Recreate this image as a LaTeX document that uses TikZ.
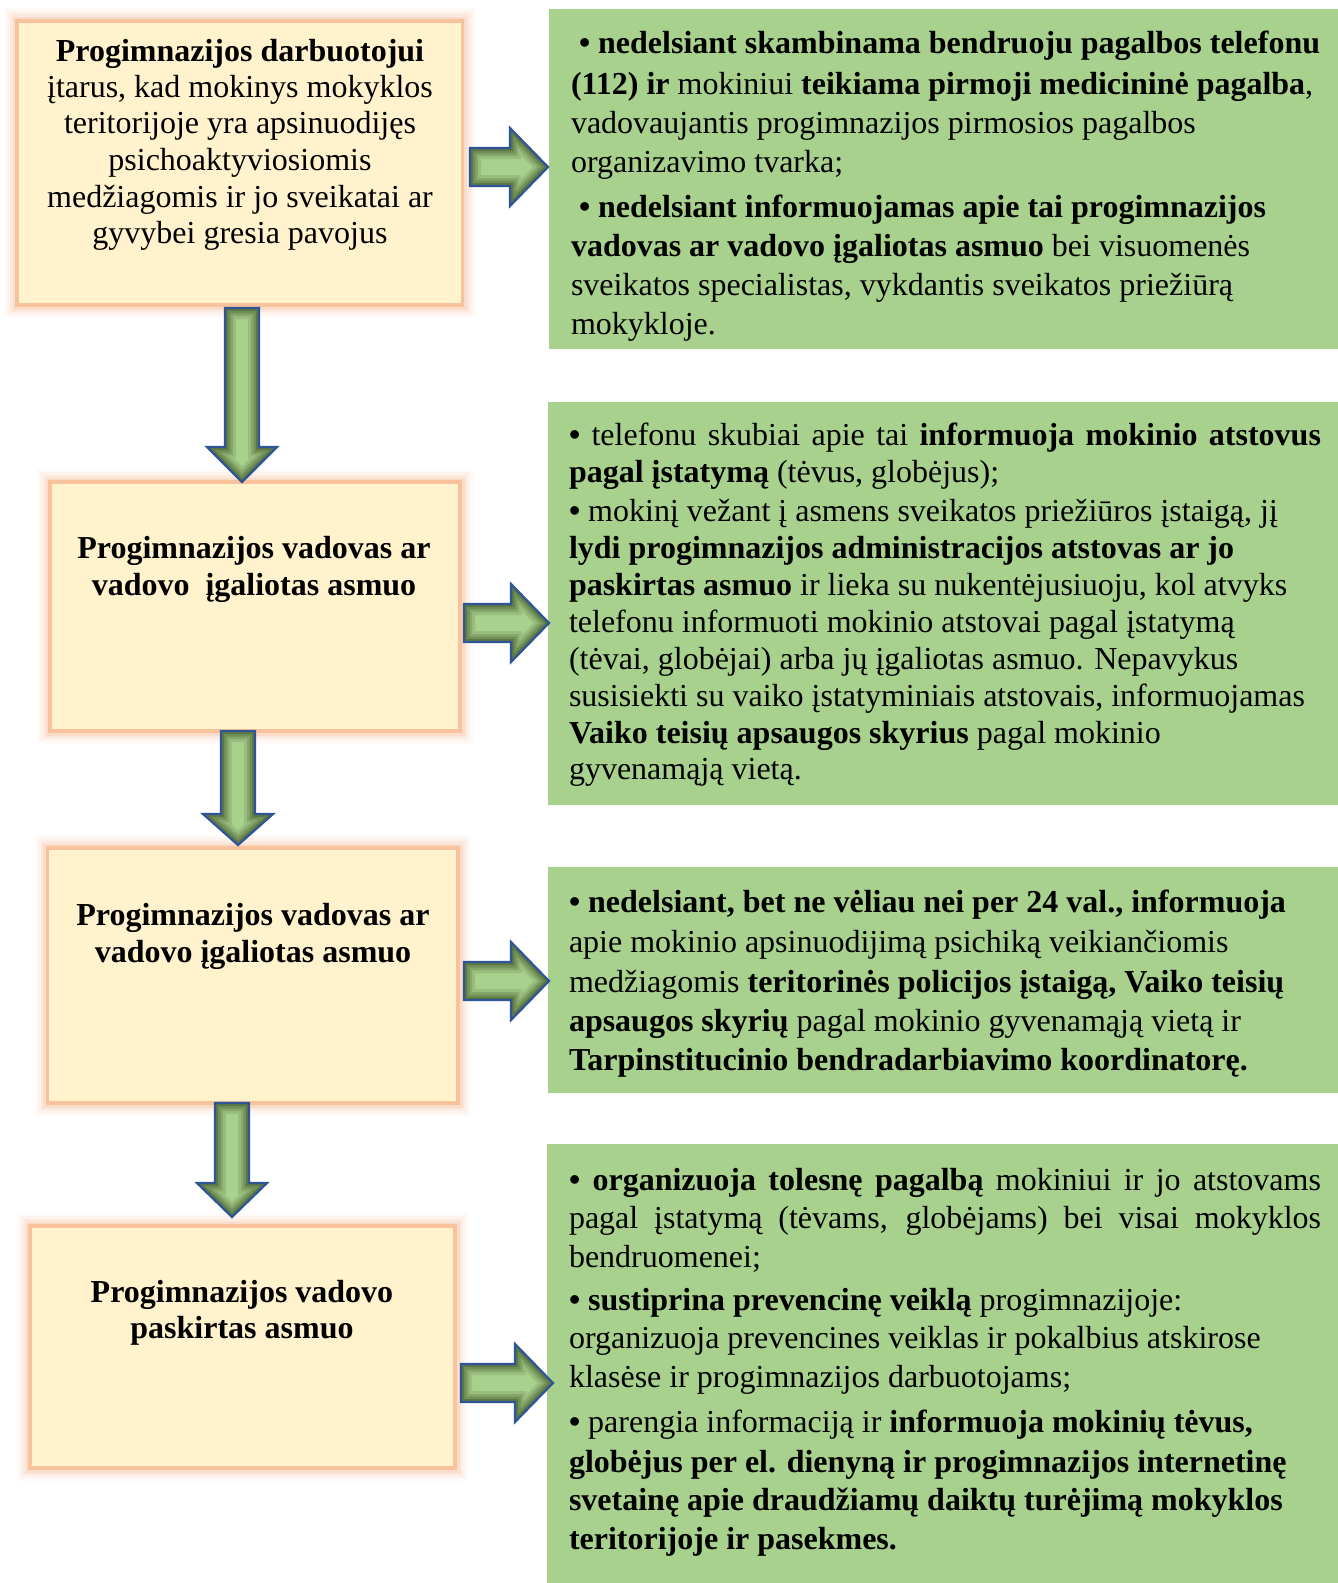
\documentclass[tikz,border=0pt]{standalone}
\usepackage{fontspec}
\setmainfont{Liberation Serif}
\usetikzlibrary{calc}
\definecolor{beige}{HTML}{FFF2CC}
\definecolor{glow}{HTML}{F4B183}
\definecolor{glowb}{HTML}{F8C29C}
\definecolor{gbox}{HTML}{A9D18E}
\definecolor{arrline}{HTML}{2F5597}
\definecolor{arrdark}{HTML}{34481C}
\tikzset{
  gboxst/.style={rectangle, fill=gbox, draw=none, inner sep=0pt, outer sep=0pt},
  ltext/.style={anchor=base, inner sep=0pt, outer sep=0pt, font=\fontsize{32}{37}\selectfont},
  gtext/.style={anchor=base west, inner sep=0pt, outer sep=0pt, font=\fontsize{32}{37}\selectfont},
}
\newcommand\BeigeBox[5]{%
  \node[inner sep=0pt, outer sep=0pt, minimum width=#4pt, minimum height=#5pt] (#1) at (#2,#3) {};
  \foreach \w/\o in {26/0.06,20/0.09,14/0.14,9/0.22}{\draw[glow, line width=\w pt, opacity=\o] (#1.south west) rectangle (#1.north east);}
  \fill[beige] (#1.south west) rectangle (#1.north east);
  \draw[glowb, line width=3.5pt] (#1.south west) rectangle (#1.north east);
}
\newcommand\ArrDraw{%
  \fill[gbox, use path=\arrp];
  \begin{scope}
    \clip[use path=\arrp];
    \foreach \w/\o in {22/0.14,16/0.18,11/0.24,6/0.32}{\draw[arrdark, line width=\w pt, opacity=\o, use path=\arrp];}
  \end{scope}
  \draw[arrline, line width=2.2pt, line join=miter, use path=\arrp];
}
% right block arrow: #1 from, #2 to, #3 gap at start, #4 tip shift
\newcommand\RArr[4]{%
  \path[save path=\arrp] let \p1=(#1), \p2=(#2) in
    ({\x1+#3pt},{\y2+19pt}) -- ({\x2+#4pt-38pt},{\y2+19pt}) -- ({\x2+#4pt-38pt},{\y2+39pt})
    -- ({\x2+#4pt},\y2) -- ({\x2+#4pt-38pt},{\y2-39pt}) -- ({\x2+#4pt-38pt},{\y2-19pt})
    -- ({\x1+#3pt},{\y2-19pt}) -- cycle;
  \ArrDraw
}
% down block arrow: #1 from, #2 to, #3 gap, #4 tip shift, #5 head length
\newcommand\DArr[5]{%
  \path[save path=\arrp] let \p1=(#1), \p2=(#2) in
    ({\x1-17pt},{\y1-#3pt}) -- ({\x1-17pt},{\y2-(#4pt)+#5pt}) -- ({\x1-35pt},{\y2-(#4pt)+#5pt})
    -- (\x1,{\y2-(#4pt)}) -- ({\x1+35pt},{\y2-(#4pt)+#5pt}) -- ({\x1+17pt},{\y2-(#4pt)+#5pt})
    -- ({\x1+17pt},{\y1-#3pt}) -- cycle;
  \ArrDraw
}
\newcommand\GL[4]{\node[gtext] (#1) at (#2,#3) {#4};}
\newcommand\LL[4]{\node[ltext] (#1) at (#2,#3) {#4};}
\newcommand\JL[1]{\makebox[752pt][s]{#1}}
\newcommand\bul{\textbf{•}}

\begin{document}
\begin{tikzpicture}[x=1pt, y=-1pt]
\useasboundingbox (0,0) rectangle (1338,1583);
\fill[white] (0,0) rectangle (1338,1583);

% green boxes
\node[gboxst, minimum width=789pt, minimum height=340pt] (g1) at (943.5,179) {};
\node[gboxst, minimum width=790pt, minimum height=403pt] (g2) at (943,603.5) {};
\node[gboxst, minimum width=790pt, minimum height=226pt] (g3) at (943,980) {};
\node[gboxst, minimum width=791pt, minimum height=439pt] (g4) at (942.5,1363.5) {};

% beige boxes
\BeigeBox{b1}{239.75}{163}{445.5}{284}
\BeigeBox{b2}{255}{606.5}{410}{249}
\BeigeBox{b3}{252.75}{975.5}{410.5}{255}
\BeigeBox{b4}{242.5}{1347}{425}{242}

% arrows
\RArr{b1.east |- 0,167}{g1.west |- 0,167}{7.5}{-1}
\RArr{b2.east |- 0,623}{g2.west |- 0,623}{4}{1}
\RArr{b3.east |- 0,981}{g3.west |- 0,981}{6}{1}
\RArr{b4.east |- 0,1383}{g4.west |- 0,1383}{6}{6}
\DArr{b1.south -| 242,0}{b2.north -| 242,0}{3}{0}{35}
\DArr{b2.south -| 238,0}{b3.north -| 238,0}{0}{-3}{31}
\DArr{b3.south -| 232,0}{b4.north -| 232,0}{0}{-9}{34}

% left texts
\LL{t1a}{240}{61}{\textbf{Progimnazijos darbuotojui}}
\LL{t1b}{240}{97}{įtarus, kad mokinys mokyklos}
\LL{t1c}{240}{133}{teritorijoje yra apsinuodijęs}
\LL{t1d}{240}{170}{psichoaktyviosiomis}
\LL{t1e}{240}{207}{medžiagomis ir jo sveikatai ar}
\LL{t1f}{240}{243}{gyvybei gresia pavojus}

\LL{t2a}{254}{558}{\textbf{Progimnazijos vadovas ar}}
\LL{t2b}{254}{595}{\textbf{vadovo\ \ įgaliotas asmuo}}

\LL{t3a}{253}{925}{\textbf{Progimnazijos vadovas ar}}
\LL{t3b}{253}{962}{\textbf{vadovo įgaliotas asmuo}}

\LL{t4a}{242}{1302}{\textbf{Progimnazijos vadovo}}
\LL{t4b}{242}{1338}{\textbf{paskirtas asmuo}}

% green box 1
\begin{scope}
\clip (g1.south west) rectangle (g1.north east);
\GL{g1a}{571}{53}{\hspace{8pt}\textbf{• nedelsiant skambinama bendruoju pagalbos telefonu}}
\GL{g1b}{571}{94}{\textbf{(112) ir} mokiniui \textbf{teikiama pirmoji medicininė pagalba},}
\GL{g1c}{571}{133}{vadovaujantis progimnazijos pirmosios pagalbos}
\GL{g1d}{571}{172}{organizavimo tvarka;}
\GL{g1e}{571}{217}{\hspace{8pt}\textbf{• nedelsiant informuojamas apie tai progimnazijos}}
\GL{g1f}{571}{256}{\textbf{vadovas ar vadovo įgaliotas asmuo} bei visuomenės}
\GL{g1g}{571}{295}{sveikatos specialistas, vykdantis sveikatos priežiūrą}
\GL{g1h}{571}{334}{mokykloje.}
\end{scope}

% green box 2
\GL{g2a}{569}{445}{\JL{\bul{} telefonu skubiai apie tai \textbf{informuoja mokinio atstovus}}}
\GL{g2b}{569}{482}{\textbf{pagal įstatymą} (tėvus, globėjus);}
\GL{g2c}{569}{521}{\bul{} mokinį vežant į asmens sveikatos priežiūros įstaigą, jį}
\GL{g2d}{569}{558}{\textbf{lydi progimnazijos administracijos atstovas ar jo}}
\GL{g2e}{569}{595}{\textbf{paskirtas asmuo} ir lieka su nukentėjusiuoju, kol atvyks}
\GL{g2f}{569}{632}{telefonu informuoti mokinio atstovai pagal įstatymą}
\GL{g2g}{569}{669}{(tėvai, globėjai) arba jų įgaliotas asmuo. Nepavykus}
\GL{g2h}{569}{706}{susisiekti su vaiko įstatyminiais atstovais, informuojamas}
\GL{g2i}{569}{743}{\textbf{Vaiko teisių apsaugos skyrius} pagal mokinio}
\GL{g2j}{569}{779}{gyvenamąją vietą.}

% green box 3
\GL{g3a}{569}{912}{\textbf{• nedelsiant, bet ne vėliau nei per 24 val., informuoja}}
\GL{g3b}{569}{952}{apie mokinio apsinuodijimą psichiką veikiančiomis}
\GL{g3c}{569}{992}{medžiagomis \textbf{teritorinės policijos įstaigą, Vaiko teisių}}
\GL{g3d}{569}{1031}{\textbf{apsaugos skyrių} pagal mokinio gyvenamąją vietą ir}
\GL{g3e}{569}{1070}{\textbf{Tarpinstitucinio bendradarbiavimo koordinatorę.}}

% green box 4
\GL{g4a}{569}{1190}{\JL{\bul{} \textbf{organizuoja tolesnę pagalbą} mokiniui ir jo atstovams}}
\GL{g4b}{569}{1228}{\JL{pagal įstatymą (tėvams, globėjams) bei visai mokyklos}}
\GL{g4c}{569}{1267}{bendruomenei;}
\GL{g4d}{569}{1310}{\bul{} \textbf{sustiprina prevencinę veiklą} progimnazijoje:}
\GL{g4e}{569}{1348}{organizuoja prevencines veiklas ir pokalbius atskirose}
\GL{g4f}{569}{1387}{klasėse ir progimnazijos darbuotojams;}
\GL{g4g}{569}{1432}{\bul{} parengia informaciją ir \textbf{informuoja mokinių tėvus,}}
\GL{g4h}{569}{1472}{\textbf{globėjus per el. dienyną ir progimnazijos internetinę}}
\GL{g4i}{569}{1510}{\textbf{svetainę apie draudžiamų daiktų turėjimą mokyklos}}
\GL{g4j}{569}{1549}{\textbf{teritorijoje ir pasekmes.}}
\end{tikzpicture}
\end{document}
